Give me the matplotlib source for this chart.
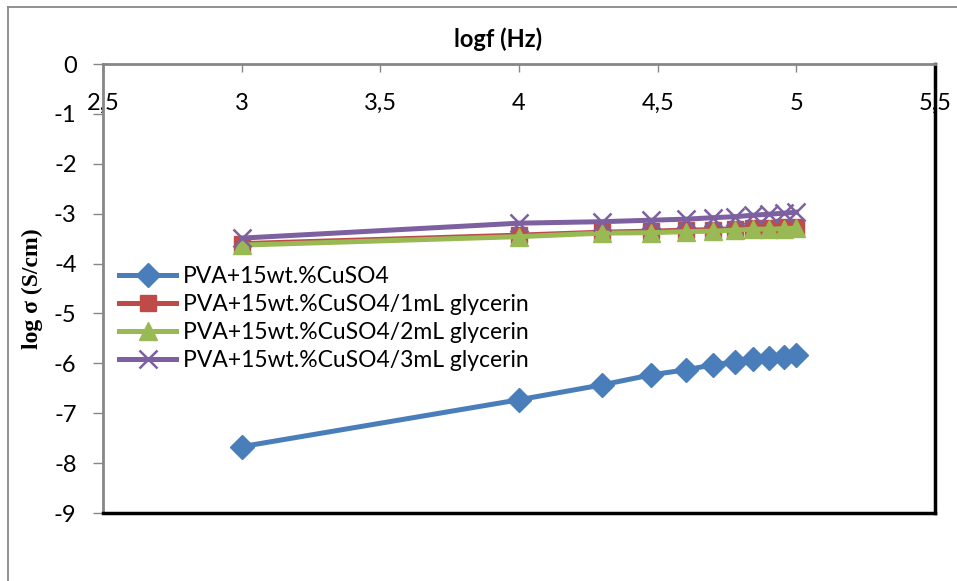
import numpy as np
import matplotlib
matplotlib.use("Agg")
import matplotlib.pyplot as plt
from matplotlib.lines import Line2D
from matplotlib.ticker import FuncFormatter

plt.rcParams['font.family'] = ['Lato', 'DejaVu Sans']

# log of frequency (1 kHz ... 100 kHz)
logf = [3.0, 4.0, 4.301, 4.477, 4.602, 4.699, 4.778, 4.845, 4.903, 4.954, 5.0]

# log sigma (S/cm)
pva_cuso4 = [-7.67, -6.73, -6.43, -6.23, -6.13, -6.03, -5.97, -5.92, -5.89, -5.87, -5.83]
gly_1ml = [-3.60, -3.43, -3.37, -3.35, -3.33, -3.32, -3.30, -3.28, -3.28, -3.27, -3.26]
gly_2ml = [-3.63, -3.46, -3.39, -3.38, -3.36, -3.35, -3.33, -3.31, -3.31, -3.30, -3.29]
gly_3ml = [-3.49, -3.19, -3.16, -3.13, -3.11, -3.08, -3.06, -3.03, -3.01, -2.99, -2.97]

labels = ["PVA+15wt.%CuSO4",
          "PVA+15wt.%CuSO4/1mL glycerin",
          "PVA+15wt.%CuSO4/2mL glycerin",
          "PVA+15wt.%CuSO4/3mL glycerin"]

xticks = [2.5, 3, 3.5, 4, 4.5, 5, 5.5]
yticks = [0, -1, -2, -3, -4, -5, -6, -7, -8, -9]

fig = plt.figure(figsize=(9.57, 5.81), dpi=100)
ax = fig.add_axes([0.1076, 0.117, 0.8694, 0.7728])

ax.plot(logf, pva_cuso4, color='#4A7EBB', lw=3.6, marker='D', ms=12,
        label=labels[0], zorder=3)
ax.plot(logf, gly_1ml, color='#BE4B48', lw=3.6, marker='s', ms=11,
        label=labels[1], zorder=4)
ax.plot(logf, gly_2ml, color='#98B954', lw=3.6, marker='^', ms=13,
        label=labels[2], zorder=5)
ax.plot(logf, gly_3ml, color='#7D60A0', lw=3.6, marker='x', ms=13, mew=1.8,
        label=labels[3], zorder=6)

ax.set_xlim(2.5, 5.5)
ax.set_ylim(-9, 0)
ax.set_xticks(xticks)
ax.set_yticks(yticks)

fmt = FuncFormatter(lambda v, p: ('%g' % v).replace('.', ','))
ax.xaxis.set_major_formatter(fmt)
ax.yaxis.set_major_formatter(fmt)

ax.xaxis.tick_top()
ax.tick_params(axis='x', direction='in', length=6, width=1, color='#868686',
               labelsize=17, pad=-36)
ax.tick_params(axis='y', direction='out', length=7, width=1, color='#868686',
               labelsize=17, pad=12)

for s in ['top', 'left']:
    ax.spines[s].set_color('#868686')
    ax.spines[s].set_linewidth(2)
for s in ['right', 'bottom']:
    ax.spines[s].set_color('black')
    ax.spines[s].set_linewidth(2.5)

ax.text(0.475, 1.03, "logf (Hz)", transform=ax.transAxes, ha='center',
        va='bottom', fontsize=17, fontweight='bold')
ax.set_ylabel("log σ (S/cm)", fontsize=17, fontweight='bold',
              family=['Liberation Serif', 'DejaVu Serif'], labelpad=8)

ax.legend(loc='upper left', bbox_to_anchor=(0.0, 0.585), frameon=False,
          fontsize=16.5, handlelength=2.5, handletextpad=0.3, labelspacing=0.3,
          borderaxespad=0.3)

# outer chart border
fig.add_artist(Line2D([8 / 957, 8 / 957], [0, 1 - 7 / 581], color='#888888', lw=1.3))
fig.add_artist(Line2D([8 / 957, 1], [1 - 7 / 581, 1 - 7 / 581], color='#888888', lw=1.3))

fig.savefig("out.png", dpi=100)
